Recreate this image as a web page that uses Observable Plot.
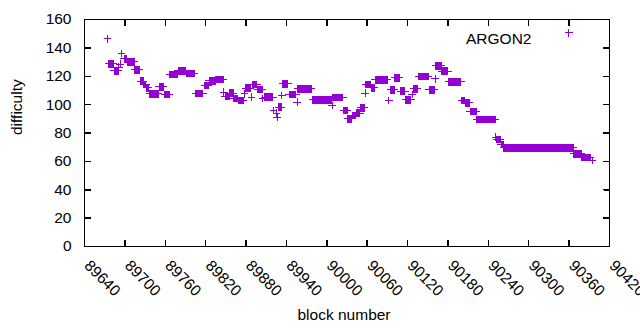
<!DOCTYPE html>
<html><head><meta charset="utf-8">
<script src="https://cdn.jsdelivr.net/npm/d3@7"></script>
<script src="https://cdn.jsdelivr.net/npm/@observablehq/plot@0.6"></script>
<style>body{margin:0;background:#fff}</style>
</head><body><div id="chart"></div>
<script>
// Runs of consecutive blocks sharing one difficulty value (single blocks have start == end)
const runStart = [89674,89676,89684,89691,89693,89695,89699,89704,89715,89723,89728,89732,89737,89751,89759,89767,89779,89791,89805,89818,89825,89835,89847,89849,89856,89862,89869,89878,89879,89888,89889,89897,89905,89908,89921,89925,89926,89928,89933,89934,89944,89956,89957,89979,90008,90009,90025,90031,90038,90044,90050,90057,90058,90066,90072,90092,90095,90101,90110,90117,90127,90129,90136,90152,90161,90162,90171,90181,90200,90206,90213,90223,90251,90252,90259,90263,90367,90379,90394];
const runEnd   = [89674,89683,89690,89691,89693,89695,89703,89714,89722,89727,89731,89735,89750,89757,89766,89778,89790,89803,89816,89824,89834,89846,89847,89855,89861,89867,89876,89878,89886,89888,89896,89904,89905,89920,89921,89925,89926,89932,89933,89942,89954,89956,89977,90007,90008,90024,90030,90037,90043,90049,90056,90057,90065,90071,90090,90092,90100,90108,90116,90125,90127,90135,90151,90160,90161,90170,90180,90199,90205,90212,90222,90250,90251,90258,90262,90366,90378,90392,90394];
const runValue = [146.4,128.8,123.9,126.5,128.5,136.1,132.3,130.2,124.6,116.6,114.2,111.9,107.7,112.6,107.0,121.3,123.9,122.0,107.9,113.5,116.8,117.7,108.8,105.8,108.1,104.4,103.0,107.7,111.6,105.3,114.2,110.7,104.2,105.3,95.9,94.0,91.2,98.2,106.3,114.7,107.0,101.8,111.2,103.4,99.4,104.9,95.9,90.0,92.4,94.0,97.8,108.1,114.2,111.9,117.5,103.0,110.5,118.9,109.5,103.4,107.2,111.2,119.9,110.5,118.2,127.4,123.6,116.1,103.0,101.3,95.2,89.4,77.1,75.3,71.8,69.6,65.4,62.8,60.7];
const xTicks = [89640,89700,89760,89820,89880,89940,90000,90060,90120,90180,90240,90300,90360,90420];
const yTicks = [0,20,40,60,80,100,120,140,160];
const seriesName = "ARGON2";
const xLabel = "block number";
const yLabel = "difficulty";

const points = [];
runStart.forEach((s, i) => {
  for (let b = s; b <= runEnd[i]; b++) points.push({block: b, difficulty: runValue[i]});
});

const plus = {draw(ctx, size) {
  const r = Math.sqrt(size / Math.PI);
  ctx.moveTo(-r, 0); ctx.lineTo(r, 0);
  ctx.moveTo(0, -r); ctx.lineTo(0, r);
}};
const tickShape = {draw(ctx, l) { ctx.moveTo(0, 0); ctx.lineTo(0, -l); }};
const purple = "#9400d3";
const font = "'Liberation Sans', Arial, Helvetica, sans-serif";
const fs = 15.5;
const tl = 6;

const chart = Plot.plot({
  width: 640, height: 330,
  marginLeft: 84, marginRight: 31, marginTop: 19, marginBottom: 84,
  style: {fontFamily: font, fontSize: fs + "px", background: "white", color: "black"},
  x: {domain: [89640, 90420], axis: null},
  y: {domain: [0, 160], axis: null},
  marks: [
    Plot.dot(points, {x: "block", y: "difficulty", symbol: plus, r: 3.8, stroke: purple, fill: "none", strokeWidth: 1, shapeRendering: "crispEdges"}),
    Plot.frame({stroke: "black", strokeWidth: 1}),
    Plot.vector(xTicks, {x: d => d, frameAnchor: "bottom", rotate: 0, length: tl, anchor: "start", shape: tickShape, stroke: "black", shapeRendering: "crispEdges"}),
    Plot.vector(xTicks, {x: d => d, frameAnchor: "top", rotate: 180, length: tl, anchor: "start", shape: tickShape, stroke: "black", shapeRendering: "crispEdges"}),
    Plot.vector(yTicks, {y: d => d, frameAnchor: "left", rotate: 90, length: tl, anchor: "start", shape: tickShape, stroke: "black", shapeRendering: "crispEdges"}),
    Plot.vector(yTicks, {y: d => d, frameAnchor: "right", rotate: -90, length: tl, anchor: "start", shape: tickShape, stroke: "black", shapeRendering: "crispEdges"}),
    Plot.text(yTicks, {y: d => d, text: d => String(d), frameAnchor: "left", textAnchor: "end", dx: -13, fontSize: fs, fill: "black"}),
    Plot.text(xTicks, {x: d => d, text: d => String(d), frameAnchor: "bottom", rotate: 45, textAnchor: "start", dx: -1, dy: 20, fontSize: fs, fill: "black"}),
    Plot.text([yLabel], {frameAnchor: "left", rotate: -90, dx: -67, dy: 2, fontSize: fs, fill: "black"}),
    Plot.text([xLabel], {frameAnchor: "bottom", dx: -3, dy: 73, fontSize: fs, fill: "black"}),
    Plot.text([seriesName], {frameAnchor: "top-right", textAnchor: "end", dx: -78, dy: 13, fontSize: fs, fill: "black"}),
    Plot.dot([seriesName], {frameAnchor: "top-right", dx: -41, dy: 13, symbol: plus, r: 4, stroke: purple, fill: "none", strokeWidth: 1, shapeRendering: "crispEdges"})
  ]
});
document.getElementById("chart").appendChild(chart);
</script>
</body></html>
